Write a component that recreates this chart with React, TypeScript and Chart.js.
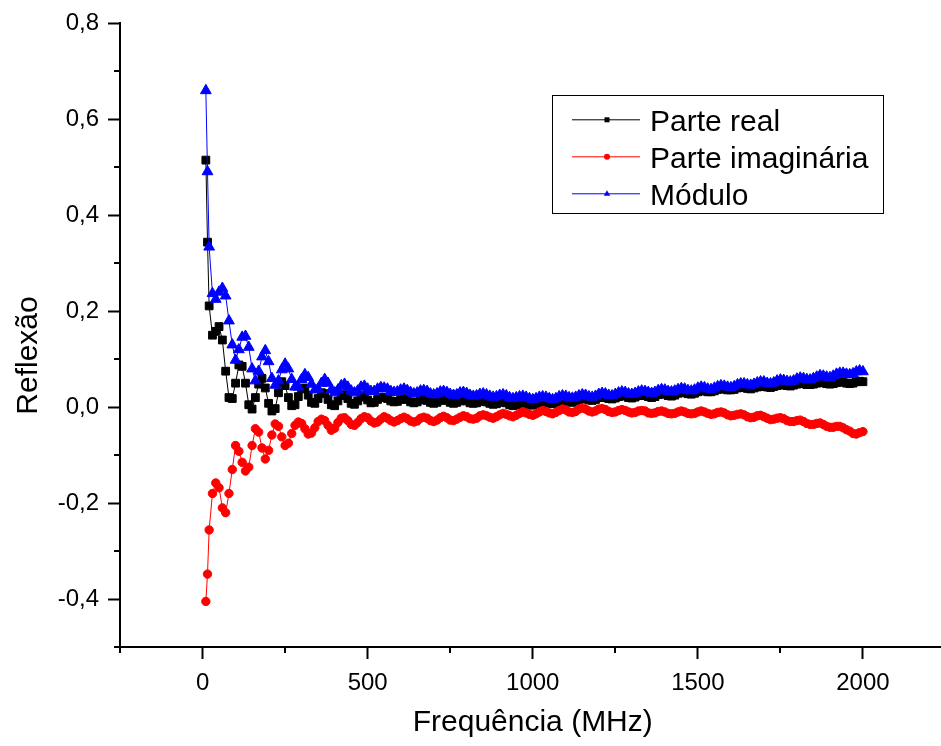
import React, { useEffect, useRef } from "react";
import { Chart, registerables } from "chart.js";

Chart.register(...registerables);

// ---------- data ----------
const FREQ = [
  10, 15, 20, 30, 40, 50, 60, 70, 80, 90, 100,
  110, 120, 130, 140, 150, 160, 170, 180, 190, 200,
  210, 220, 230, 240, 250, 260, 270, 280, 290, 300,
  310, 320, 330, 340, 350, 360, 370, 380, 390, 400,
  410, 420, 430, 440, 450, 460, 470, 480, 490, 500,
  510, 520, 530, 540, 550, 560, 570, 580, 590, 600,
  610, 620, 630, 640, 650, 660, 670, 680, 690, 700,
  710, 720, 730, 740, 750, 760, 770, 780, 790, 800,
  810, 820, 830, 840, 850, 860, 870, 880, 890, 900,
  910, 920, 930, 940, 950, 960, 970, 980, 990, 1000,
  1010, 1020, 1030, 1040, 1050, 1060, 1070, 1080, 1090, 1100,
  1110, 1120, 1130, 1140, 1150, 1160, 1170, 1180, 1190, 1200,
  1210, 1220, 1230, 1240, 1250, 1260, 1270, 1280, 1290, 1300,
  1310, 1320, 1330, 1340, 1350, 1360, 1370, 1380, 1390, 1400,
  1410, 1420, 1430, 1440, 1450, 1460, 1470, 1480, 1490, 1500,
  1510, 1520, 1530, 1540, 1550, 1560, 1570, 1580, 1590, 1600,
  1610, 1620, 1630, 1640, 1650, 1660, 1670, 1680, 1690, 1700,
  1710, 1720, 1730, 1740, 1750, 1760, 1770, 1780, 1790, 1800,
  1810, 1820, 1830, 1840, 1850, 1860, 1870, 1880, 1890, 1900,
  1910, 1920, 1930, 1940, 1950, 1960, 1970, 1980, 1990, 2000,
];

const PARTE_REAL = [
  0.515, 0.344, 0.211, 0.15, 0.158, 0.168, 0.14, 0.075, 0.02, 0.018, 0.05,
  0.088, 0.085, 0.05, 0.005, -0.004, 0.02, 0.048, 0.06, 0.04, 0.008,
  -0.008, -0.003, 0.03, 0.053, 0.045, 0.02, 0.003, 0.005, 0.022, 0.038,
  0.04, 0.025, 0.01, 0.008, 0.018, 0.03, 0.028, 0.016, 0.005, 0.003,
  0.013, 0.024, 0.026, 0.018, 0.008, 0.006, 0.013, 0.021, 0.022, 0.015,
  0.009, 0.01, 0.016, 0.02, 0.02, 0.018, 0.013, 0.011, 0.012, 0.016,
  0.018, 0.016, 0.011, 0.009, 0.011, 0.015, 0.017, 0.014, 0.01, 0.008,
  0.01, 0.014, 0.016, 0.014, 0.01, 0.008, 0.01, 0.013, 0.015, 0.013,
  0.009, 0.008, 0.009, 0.012, 0.013, 0.011, 0.008, 0.006, 0.007, 0.01,
  0.011, 0.009, 0.005, 0.003, 0.005, 0.008, 0.009, 0.008, 0.005, 0.004,
  0.006, 0.009, 0.011, 0.01, 0.008, 0.007, 0.009, 0.012, 0.014, 0.014,
  0.011, 0.01, 0.012, 0.016, 0.018, 0.017, 0.015, 0.014, 0.016, 0.02,
  0.021, 0.02, 0.018, 0.017, 0.019, 0.022, 0.024, 0.023, 0.02, 0.019,
  0.021, 0.024, 0.026, 0.024, 0.022, 0.02, 0.022, 0.026, 0.028, 0.027,
  0.024, 0.023, 0.025, 0.029, 0.031, 0.03, 0.028, 0.027, 0.029, 0.032,
  0.034, 0.034, 0.032, 0.032, 0.034, 0.037, 0.038, 0.038, 0.036, 0.036,
  0.037, 0.04, 0.041, 0.041, 0.039, 0.038, 0.04, 0.042, 0.044, 0.043,
  0.042, 0.041, 0.043, 0.045, 0.047, 0.046, 0.045, 0.044, 0.046, 0.048,
  0.049, 0.049, 0.047, 0.047, 0.048, 0.05, 0.051, 0.051, 0.049, 0.048,
  0.049, 0.051, 0.053, 0.052, 0.05, 0.049, 0.05, 0.053, 0.054, 0.053,
];

const PARTE_IMAGINARIA = [
  -0.405, -0.348, -0.256, -0.18, -0.158, -0.168, -0.21, -0.22, -0.18, -0.13, -0.08,
  -0.092, -0.115, -0.133, -0.125, -0.08, -0.045, -0.052, -0.085, -0.108, -0.09,
  -0.058, -0.035, -0.04, -0.062, -0.08, -0.075, -0.055, -0.038, -0.031, -0.034,
  -0.045, -0.056, -0.054, -0.043, -0.03, -0.025, -0.028, -0.038, -0.048, -0.044,
  -0.032, -0.023, -0.022, -0.028, -0.036, -0.038, -0.032, -0.024, -0.02, -0.022,
  -0.029, -0.033, -0.031, -0.025, -0.02, -0.023, -0.028, -0.031, -0.028, -0.024,
  -0.021, -0.024, -0.029, -0.031, -0.029, -0.023, -0.021, -0.023, -0.028, -0.03,
  -0.027, -0.022, -0.019, -0.022, -0.027, -0.028, -0.025, -0.021, -0.018, -0.02,
  -0.024, -0.025, -0.023, -0.018, -0.016, -0.018, -0.021, -0.023, -0.02, -0.016,
  -0.013, -0.015, -0.018, -0.02, -0.017, -0.013, -0.01, -0.012, -0.015, -0.017,
  -0.014, -0.01, -0.007, -0.009, -0.012, -0.014, -0.011, -0.007, -0.004, -0.006,
  -0.01, -0.011, -0.009, -0.004, -0.002, -0.004, -0.008, -0.01, -0.008, -0.004,
  -0.003, -0.005, -0.009, -0.011, -0.01, -0.007, -0.005, -0.007, -0.01, -0.012,
  -0.011, -0.008, -0.007, -0.008, -0.012, -0.013, -0.012, -0.009, -0.008, -0.01,
  -0.013, -0.014, -0.013, -0.01, -0.008, -0.01, -0.013, -0.014, -0.013, -0.01,
  -0.008, -0.01, -0.013, -0.015, -0.014, -0.011, -0.01, -0.012, -0.016, -0.018,
  -0.017, -0.015, -0.014, -0.016, -0.02, -0.022, -0.021, -0.018, -0.017, -0.02,
  -0.023, -0.026, -0.025, -0.023, -0.022, -0.024, -0.028, -0.03, -0.03, -0.028,
  -0.027, -0.03, -0.034, -0.036, -0.036, -0.034, -0.033, -0.036, -0.04, -0.042,
  -0.042, -0.04, -0.04, -0.043, -0.047, -0.05, -0.055, -0.056, -0.053, -0.051,
];

const MODULO = [
  0.66, 0.491, 0.334, 0.237, 0.225, 0.24, 0.248, 0.232, 0.18, 0.13, 0.098,
  0.12, 0.146, 0.148, 0.125, 0.08, 0.055, 0.075, 0.105, 0.118, 0.095,
  0.06, 0.046, 0.055, 0.078, 0.09, 0.08, 0.058, 0.042, 0.042, 0.058,
  0.068, 0.062, 0.048, 0.036, 0.038, 0.05, 0.058, 0.05, 0.036, 0.03,
  0.036, 0.045, 0.048, 0.042, 0.034, 0.03, 0.034, 0.042, 0.044, 0.038,
  0.033, 0.033, 0.038, 0.041, 0.04, 0.038, 0.033, 0.031, 0.032, 0.036,
  0.038, 0.035, 0.031, 0.028, 0.03, 0.034, 0.035, 0.033, 0.028, 0.026,
  0.028, 0.032, 0.033, 0.031, 0.027, 0.025, 0.026, 0.03, 0.031, 0.029,
  0.025, 0.023, 0.024, 0.027, 0.028, 0.026, 0.023, 0.021, 0.022, 0.025,
  0.026, 0.024, 0.02, 0.018, 0.02, 0.022, 0.023, 0.021, 0.018, 0.016,
  0.018, 0.021, 0.022, 0.021, 0.018, 0.016, 0.018, 0.022, 0.024, 0.023,
  0.02, 0.019, 0.021, 0.024, 0.026, 0.025, 0.022, 0.021, 0.023, 0.027,
  0.029, 0.028, 0.025, 0.024, 0.027, 0.03, 0.032, 0.031, 0.028, 0.027,
  0.029, 0.032, 0.034, 0.033, 0.031, 0.029, 0.031, 0.035, 0.037, 0.036,
  0.033, 0.032, 0.034, 0.037, 0.039, 0.038, 0.035, 0.034, 0.036, 0.04,
  0.042, 0.041, 0.038, 0.037, 0.04, 0.043, 0.045, 0.044, 0.042, 0.041,
  0.043, 0.047, 0.049, 0.049, 0.047, 0.046, 0.048, 0.051, 0.053, 0.053,
  0.05, 0.049, 0.051, 0.055, 0.057, 0.056, 0.054, 0.053, 0.055, 0.059,
  0.061, 0.06, 0.058, 0.057, 0.06, 0.063, 0.066, 0.065, 0.063, 0.062,
  0.065, 0.069, 0.071, 0.071, 0.069, 0.068, 0.07, 0.074, 0.076, 0.074,
];

const SERIES_LABELS = ["Parte real", "Parte imaginária", "Módulo"];
const SERIES_COLORS = ["#000000", "#ff0000", "#0000ff"];
const X_TITLE = "Frequência (MHz)";
const Y_TITLE = "Reflexão";
const X_MAJOR_TICKS = [0, 500, 1000, 1500, 2000];
const Y_MAJOR_TICKS = [-0.4, -0.2, 0, 0.2, 0.4, 0.6, 0.8];
const X_MINOR_TICKS = [-250, 250, 750, 1250, 1750, 2250];
const Y_MINOR_TICKS = [-0.5, -0.3, -0.1, 0.1, 0.3, 0.5, 0.7];

const FONT = '"Liberation Sans", Arial, Helvetica, sans-serif';

// ---------- plugins ----------
const minorTicksPlugin = {
  id: "minorTicks",
  afterDraw(chart: any) {
    const { ctx, chartArea } = chart;
    const xs = chart.scales.x;
    const ys = chart.scales.y;
    ctx.save();
    ctx.strokeStyle = "#000";
    ctx.lineWidth = 2;
    ctx.beginPath();
    for (const v of X_MINOR_TICKS) {
      const px = Math.round(xs.getPixelForValue(v));
      ctx.moveTo(px, chartArea.bottom);
      ctx.lineTo(px, chartArea.bottom + 6);
    }
    for (const v of Y_MINOR_TICKS) {
      const py = Math.round(ys.getPixelForValue(v));
      ctx.moveTo(chartArea.left - 6, py);
      ctx.lineTo(chartArea.left, py);
    }
    ctx.stroke();
    ctx.restore();
  },
};

const titlesPlugin = {
  id: "titles",
  afterDraw(chart: any) {
    const { ctx, chartArea } = chart;
    ctx.save();
    ctx.fillStyle = "#000";
    ctx.font = `30px ${FONT}`;
    ctx.textAlign = "center";
    ctx.textBaseline = "alphabetic";
    ctx.fillText(X_TITLE, (chartArea.left + chartArea.right) / 2, 731);
    ctx.translate(37, 355.5);
    ctx.rotate(-Math.PI / 2);
    ctx.fillText(Y_TITLE, 0, 0);
    ctx.restore();
  },
};

function drawMarker(ctx: CanvasRenderingContext2D, kind: number, x: number, y: number) {
  ctx.beginPath();
  if (kind === 0) {
    ctx.rect(x - 2.5, y - 2.5, 5, 5);
  } else if (kind === 1) {
    ctx.arc(x, y, 3, 0, Math.PI * 2);
  } else {
    ctx.moveTo(x, y - 3.5);
    ctx.lineTo(x + 3.2, y + 2);
    ctx.lineTo(x - 3.2, y + 2);
    ctx.closePath();
  }
  ctx.fill();
}

const legendPlugin = {
  id: "customLegend",
  afterDraw(chart: any) {
    const { ctx } = chart;
    ctx.save();
    ctx.strokeStyle = "#000";
    ctx.lineWidth = 1;
    ctx.strokeRect(552.5, 95.5, 331, 118);
    const baselines = [130.5, 167.5, 204.5];
    ctx.font = `30px ${FONT}`;
    ctx.textAlign = "left";
    ctx.textBaseline = "alphabetic";
    SERIES_LABELS.forEach((label, i) => {
      const yMid = baselines[i] - 10.7;
      ctx.strokeStyle = SERIES_COLORS[i];
      ctx.lineWidth = 1;
      ctx.beginPath();
      ctx.moveTo(572, yMid);
      ctx.lineTo(640, yMid);
      ctx.stroke();
      ctx.fillStyle = SERIES_COLORS[i];
      drawMarker(ctx, i, 607, yMid);
      ctx.fillStyle = "#000";
      ctx.fillText(label, 650, baselines[i]);
    });
    ctx.restore();
  },
};

// ---------- component ----------
export default function App() {
  const canvasRef = useRef<HTMLCanvasElement | null>(null);

  useEffect(() => {
    const canvas = canvasRef.current;
    if (!canvas) return;
    const mk = (vals: number[]) => FREQ.map((f, i) => ({ x: f, y: vals[i] }));
    const chart = new Chart(canvas, {
      type: "line",
      data: {
        datasets: [
          {
            label: SERIES_LABELS[0],
            data: mk(PARTE_REAL),
            borderColor: SERIES_COLORS[0],
            backgroundColor: SERIES_COLORS[0],
            borderWidth: 1,
            pointStyle: "rect",
            pointRadius: 5.5,
            pointBorderWidth: 1,
            pointBackgroundColor: SERIES_COLORS[0],
            pointBorderColor: SERIES_COLORS[0],
            order: 3,
          },
          {
            label: SERIES_LABELS[1],
            data: mk(PARTE_IMAGINARIA),
            borderColor: SERIES_COLORS[1],
            backgroundColor: SERIES_COLORS[1],
            borderWidth: 1,
            pointStyle: "circle",
            pointRadius: 4.2,
            pointBorderWidth: 1,
            pointBackgroundColor: SERIES_COLORS[1],
            pointBorderColor: SERIES_COLORS[1],
            order: 2,
          },
          {
            label: SERIES_LABELS[2],
            data: mk(MODULO),
            borderColor: SERIES_COLORS[2],
            backgroundColor: SERIES_COLORS[2],
            borderWidth: 1,
            pointStyle: "triangle",
            pointRadius: 6.2,
            pointBorderWidth: 1,
            pointBackgroundColor: SERIES_COLORS[2],
            pointBorderColor: SERIES_COLORS[2],
            order: 1,
          },
        ],
      },
      options: {
        responsive: false,
        animation: false,
        devicePixelRatio: 1,
        layout: { padding: { top: 20, right: 14.5, bottom: 0, left: 0 } },
        plugins: {
          legend: { display: false },
          tooltip: { enabled: false },
          title: { display: false },
        },
        elements: { line: { tension: 0 } },
        scales: {
          x: {
            type: "linear",
            min: -250,
            max: 2250,
            afterFit: (s: any) => {
              s.height = 99;
            },
            afterBuildTicks: (s: any) => {
              s.ticks = X_MAJOR_TICKS.map((v) => ({ value: v }));
            },
            ticks: {
              color: "#000",
              padding: 10,
              maxRotation: 0,
              autoSkip: false,
              font: { family: FONT, size: 24 },
              callback: (v: any) => String(v),
            },
            grid: {
              display: true,
              drawOnChartArea: false,
              drawTicks: true,
              tickLength: 12,
              tickWidth: 2,
              tickColor: "#000",
            },
            border: { display: true, color: "#000", width: 2 },
          },
          y: {
            type: "linear",
            min: -0.5,
            max: 0.8,
            afterFit: (s: any) => {
              s.width = 120;
            },
            afterBuildTicks: (s: any) => {
              s.ticks = Y_MAJOR_TICKS.map((v) => ({ value: v }));
            },
            ticks: {
              color: "#000",
              padding: 9,
              autoSkip: false,
              font: { family: FONT, size: 24 },
              callback: (v: any) => Number(v).toFixed(1).replace(".", ","),
            },
            grid: {
              display: true,
              drawOnChartArea: false,
              drawTicks: true,
              tickLength: 12,
              tickWidth: 2,
              tickColor: "#000",
            },
            border: { display: true, color: "#000", width: 2 },
          },
        },
      },
      plugins: [minorTicksPlugin, titlesPlugin, legendPlugin],
    } as any);
    return () => chart.destroy();
  }, []);

  return (
    <div
      style={{
        position: "fixed",
        left: 0,
        top: 0,
        width: 941,
        height: 746,
        overflow: "hidden",
        background: "#fff",
      }}
    >
      <canvas
        ref={canvasRef}
        width={960}
        height={746}
        style={{ display: "block", width: 960, height: 746 }}
      />
    </div>
  );
}
